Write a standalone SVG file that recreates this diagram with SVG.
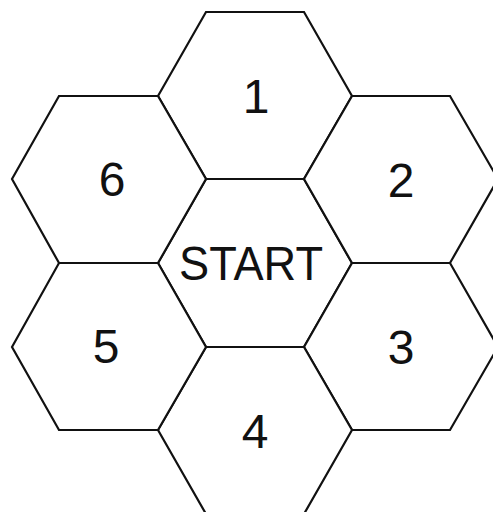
<svg xmlns="http://www.w3.org/2000/svg" width="493" height="512" viewBox="0 0 493 512">
<style>
.hex{fill:#fff;stroke:#111;stroke-width:2.2;stroke-linejoin:miter}
.lbl{font-family:"Liberation Sans",Arial,sans-serif;font-size:48px;fill:#111;text-anchor:middle}
</style>
<rect width="493" height="512" fill="#fff"/>
<g id="hex-start">
<polygon class="hex" points="158,263 206,179 304,179 352,263 304,347 206,347"/>
<text class="lbl" x="251" y="280" textLength="144" lengthAdjust="spacingAndGlyphs">START</text>
</g>
<g id="hex-1">
<polygon class="hex" points="158,96 206,12 304,12 352,96 304,179 206,179"/>
<text class="lbl" x="256" y="113">1</text>
</g>
<g id="hex-2">
<polygon class="hex" points="304,179 352,96 450,96 498,179 450,263 352,263"/>
<text class="lbl" x="401" y="197">2</text>
</g>
<g id="hex-3">
<polygon class="hex" points="304,347 352,263 450,263 498,347 450,430 352,430"/>
<text class="lbl" x="401" y="364">3</text>
</g>
<g id="hex-4">
<polygon class="hex" points="158,430 206,347 304,347 352,430 304,514 206,514"/>
<text class="lbl" x="255" y="448">4</text>
</g>
<g id="hex-5">
<polygon class="hex" points="12,347 59,263 158,263 206,347 158,430 59,430"/>
<text class="lbl" x="106" y="363">5</text>
</g>
<g id="hex-6">
<polygon class="hex" points="12,179 59,96 158,96 206,179 158,263 59,263"/>
<text class="lbl" x="112" y="196">6</text>
</g>
</svg>
